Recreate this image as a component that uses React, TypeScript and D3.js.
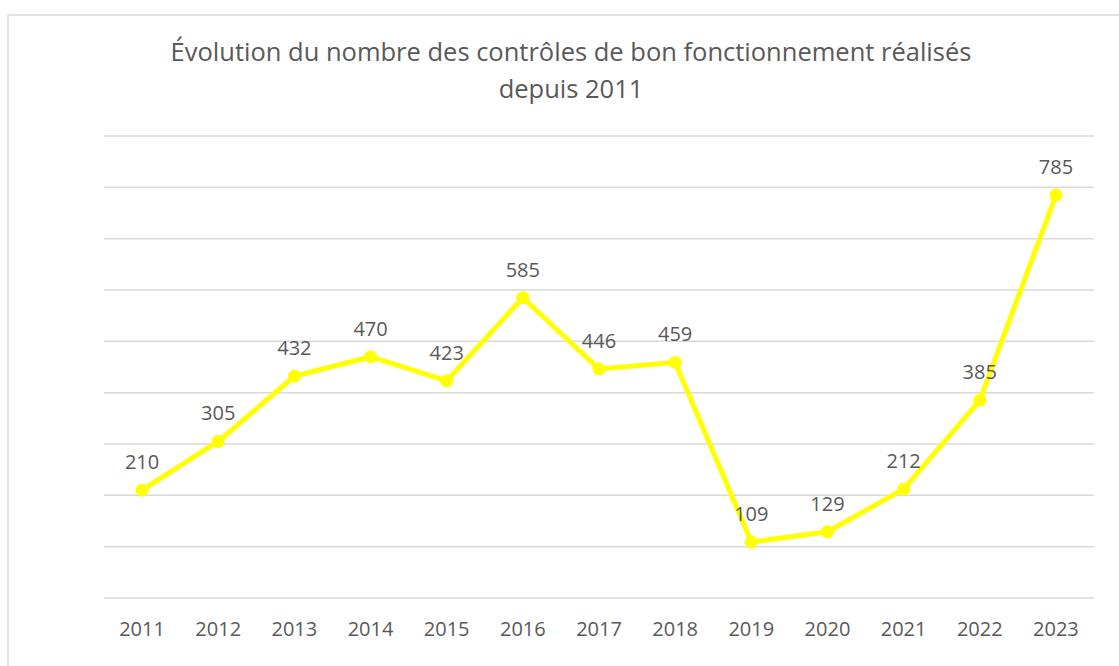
import React from "react";
import * as d3 from "d3";

const years = ["2011","2012","2013","2014","2015","2016","2017","2018","2019","2020","2021","2022","2023"];
const values = [210, 305, 432, 470, 423, 585, 446, 459, 109, 129, 212, 385, 785];
const gridTicks = [0,100,200,300,400,500,600,700,800,900];
const titleLines = ["Évolution du nombre des contrôles de bon fonctionnement réalisés", "depuis 2011"];

const W = 1119, H = 666;
const plot = { left: 104, right: 1094, top: 136, bottom: 598 };
const font = "'Open Sans', 'Liberation Sans', sans-serif";
const textColor = "#595959";

export default function App() {
  const x = d3.scalePoint<string>().domain(years).range([plot.left, plot.right]).padding(0.5);
  const y = d3.scaleLinear().domain([0, 900]).range([plot.bottom, plot.top]);
  const line = d3.line<number>().x((_, i) => x(years[i])!).y(d => y(d));
  return (
    <svg width={W} height={H} style={{ position: "absolute", left: 0, top: 0, background: "#fff" }}>
      <rect x={8} y={15} width={W} height={H} fill="#fff" stroke="#d9d9d9" strokeWidth={1.5} />
      {titleLines.map((t, i) => (
        <text key={i} x={571} y={61 + i * 37} textAnchor="middle" fontFamily={font} fontSize={25.5} fill={textColor}>{t}</text>
      ))}
      {gridTicks.map(t => (
        <line key={t} x1={plot.left} x2={plot.right} y1={y(t)} y2={y(t)} stroke="#d9d9d9" strokeWidth={1.5} />
      ))}
      {years.map(yr => (
        <text key={yr} x={x(yr)} y={636} textAnchor="middle" fontFamily={font} fontSize={20} fill={textColor}>{yr}</text>
      ))}
      <path d={line(values)!} fill="none" stroke="#ffff00" strokeWidth={5} strokeLinejoin="round" />
      {values.map((v, i) => (
        <circle key={i} cx={x(years[i])} cy={y(v)} r={6.5} fill="#ffff00" />
      ))}
      {values.map((v, i) => (
        <text key={i} x={x(years[i])} y={y(v) - 21} textAnchor="middle" fontFamily={font} fontSize={20} fill={textColor}>{v}</text>
      ))}
    </svg>
  );
}
